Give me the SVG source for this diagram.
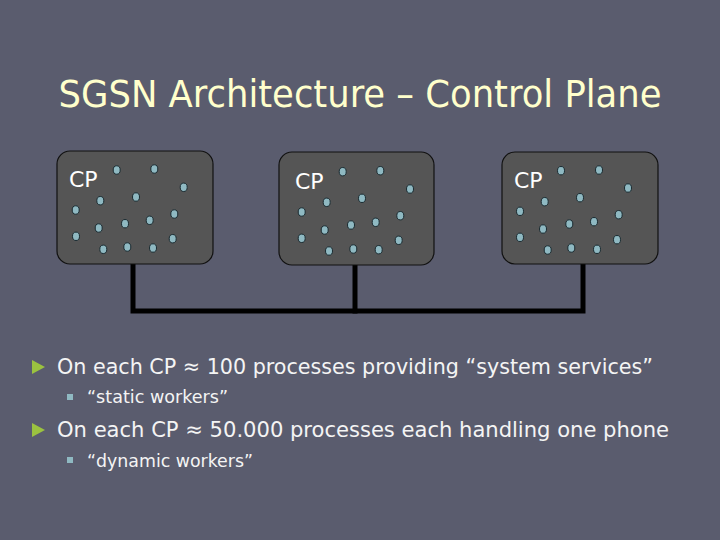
<svg xmlns="http://www.w3.org/2000/svg" width="720" height="540" viewBox="0 0 720 540">
<style>
.box{fill:#555555;stroke:#111;stroke-width:1.2}
.dot{fill:#8fb9c2;stroke:#1a2a30;stroke-width:1}
.cp{font-family:"DejaVu Sans","Liberation Sans",sans-serif;font-size:22px;fill:#ffffff}
.wire{stroke:#000;stroke-width:5;fill:none;stroke-linecap:square}
.t1{font-family:"DejaVu Sans Condensed","DejaVu Sans",sans-serif;font-size:22px;fill:#f4f4f4}
.t2{font-family:"DejaVu Sans Condensed","DejaVu Sans",sans-serif;font-size:18px;fill:#f4f4f4}
</style>
<rect width="720" height="540" fill="#5a5c6e"/>
<text x="360" y="107" text-anchor="middle" font-family="DejaVu Sans Condensed,DejaVu Sans,sans-serif" font-size="37" fill="#ffffcc" textLength="603" lengthAdjust="spacingAndGlyphs">SGSN Architecture – Control Plane</text>
<g id="connectors">
<polyline class="wire" points="133,265 133,311 583,311 583,265"/>
<line class="wire" x1="355" y1="266" x2="355" y2="311"/>
</g>
<g id="cp1">
<rect class="box" x="57" y="151" width="156" height="113" rx="13"/>
<text class="cp" x="69" y="187">CP</text>
<ellipse class="dot" cx="116.7" cy="170" rx="3.5" ry="4.2"/>
<ellipse class="dot" cx="154.3" cy="169" rx="3.5" ry="4.2"/>
<ellipse class="dot" cx="183.7" cy="187.3" rx="3.5" ry="4.2"/>
<ellipse class="dot" cx="100.3" cy="200.7" rx="3.5" ry="4.2"/>
<ellipse class="dot" cx="136" cy="197" rx="3.5" ry="4.2"/>
<ellipse class="dot" cx="75.7" cy="210" rx="3.5" ry="4.2"/>
<ellipse class="dot" cx="174.3" cy="214" rx="3.5" ry="4.2"/>
<ellipse class="dot" cx="149.7" cy="220.3" rx="3.5" ry="4.2"/>
<ellipse class="dot" cx="125" cy="223.7" rx="3.5" ry="4.2"/>
<ellipse class="dot" cx="98.7" cy="228" rx="3.5" ry="4.2"/>
<ellipse class="dot" cx="76" cy="236.3" rx="3.5" ry="4.2"/>
<ellipse class="dot" cx="172.7" cy="238.7" rx="3.5" ry="4.2"/>
<ellipse class="dot" cx="103.3" cy="249.3" rx="3.5" ry="4.2"/>
<ellipse class="dot" cx="127.3" cy="247" rx="3.5" ry="4.2"/>
<ellipse class="dot" cx="153" cy="248" rx="3.5" ry="4.2"/>
</g>
<g id="cp2">
<rect class="box" x="279" y="152" width="155" height="113" rx="13"/>
<text class="cp" x="295" y="189">CP</text>
<ellipse class="dot" cx="342.7" cy="171.7" rx="3.5" ry="4.2"/>
<ellipse class="dot" cx="380.3" cy="170.7" rx="3.5" ry="4.2"/>
<ellipse class="dot" cx="410" cy="189" rx="3.5" ry="4.2"/>
<ellipse class="dot" cx="326.7" cy="202.3" rx="3.5" ry="4.2"/>
<ellipse class="dot" cx="362" cy="198.3" rx="3.5" ry="4.2"/>
<ellipse class="dot" cx="301.7" cy="212" rx="3.5" ry="4.2"/>
<ellipse class="dot" cx="400.3" cy="215.7" rx="3.5" ry="4.2"/>
<ellipse class="dot" cx="375.7" cy="222.3" rx="3.5" ry="4.2"/>
<ellipse class="dot" cx="351" cy="225" rx="3.5" ry="4.2"/>
<ellipse class="dot" cx="324.7" cy="230" rx="3.5" ry="4.2"/>
<ellipse class="dot" cx="301.7" cy="238.3" rx="3.5" ry="4.2"/>
<ellipse class="dot" cx="398.7" cy="240.3" rx="3.5" ry="4.2"/>
<ellipse class="dot" cx="329" cy="251" rx="3.5" ry="4.2"/>
<ellipse class="dot" cx="353.3" cy="249" rx="3.5" ry="4.2"/>
<ellipse class="dot" cx="378.7" cy="249.7" rx="3.5" ry="4.2"/>
</g>
<g id="cp3">
<rect class="box" x="502" y="152" width="156" height="112" rx="13"/>
<text class="cp" x="514" y="188">CP</text>
<ellipse class="dot" cx="561" cy="170.7" rx="3.5" ry="4.2"/>
<ellipse class="dot" cx="599" cy="170" rx="3.5" ry="4.2"/>
<ellipse class="dot" cx="628" cy="188" rx="3.5" ry="4.2"/>
<ellipse class="dot" cx="544.7" cy="201.7" rx="3.5" ry="4.2"/>
<ellipse class="dot" cx="580" cy="197.7" rx="3.5" ry="4.2"/>
<ellipse class="dot" cx="520" cy="211.3" rx="3.5" ry="4.2"/>
<ellipse class="dot" cx="618.7" cy="214.7" rx="3.5" ry="4.2"/>
<ellipse class="dot" cx="594" cy="221.7" rx="3.5" ry="4.2"/>
<ellipse class="dot" cx="569.3" cy="224" rx="3.5" ry="4.2"/>
<ellipse class="dot" cx="543" cy="229" rx="3.5" ry="4.2"/>
<ellipse class="dot" cx="520" cy="237.3" rx="3.5" ry="4.2"/>
<ellipse class="dot" cx="617" cy="239.7" rx="3.5" ry="4.2"/>
<ellipse class="dot" cx="547.7" cy="250" rx="3.5" ry="4.2"/>
<ellipse class="dot" cx="571.3" cy="248" rx="3.5" ry="4.2"/>
<ellipse class="dot" cx="597" cy="249.3" rx="3.5" ry="4.2"/>
</g>
<g id="bullets">
<polygon points="32,360 45,367 32,374" fill="#9bc240"/>
<text class="t1" x="57" y="374" textLength="596" lengthAdjust="spacingAndGlyphs">On each CP ≈ 100 processes providing “system services”</text>
<rect x="67" y="394" width="6" height="6" fill="#8fb9c2"/>
<text class="t2" x="87" y="403" textLength="141" lengthAdjust="spacingAndGlyphs">“static workers”</text>
<polygon points="32,423 45,430 32,437" fill="#9bc240"/>
<text class="t1" x="57" y="437" textLength="612" lengthAdjust="spacingAndGlyphs">On each CP ≈ 50.000 processes each handling one phone</text>
<rect x="67" y="457" width="6" height="6" fill="#8fb9c2"/>
<text class="t2" x="87" y="467" textLength="166" lengthAdjust="spacingAndGlyphs">“dynamic workers”</text>
</g>
</svg>
